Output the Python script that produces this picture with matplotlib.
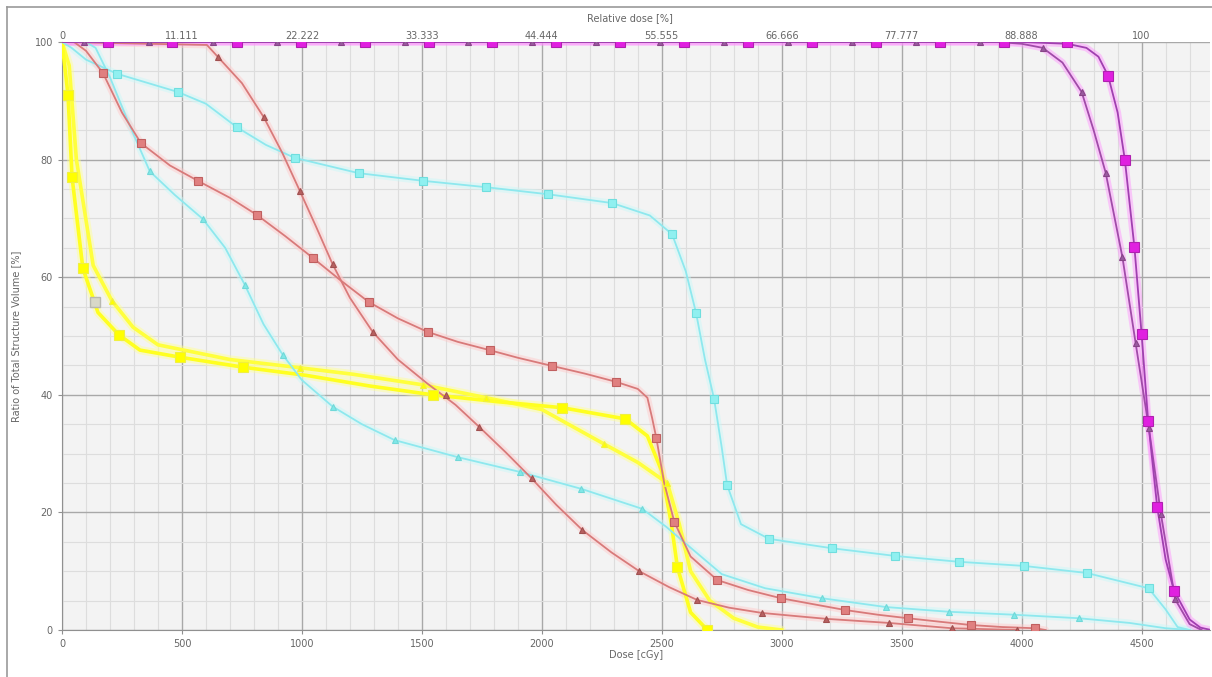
import matplotlib.pyplot as plt
from matplotlib.lines import Line2D

# dose axis ticks (bottom) and relative dose labels (top)
dose_ticks = [0, 500, 1000, 1500, 2000, 2500, 3000, 3500, 4000, 4500]
rel_labels = ["0", "11.111", "22.222", "33.333", "44.444", "55.555",
              "66.666", "77.777", "88.888", "100"]
vol_ticks = [0, 20, 40, 60, 80, 100]

# magenta, squares
mag_sq_x = [0, 1000, 2000, 3000, 4000, 4190, 4270, 4320, 4360, 4400, 4430, 4470, 4500,
            4527, 4565, 4600, 4635, 4700, 4745, 4790]
mag_sq_y = [100, 100, 100, 100, 100, 99.7, 99, 97.5, 94.3, 88, 80, 65.1, 50.3,
            35.6, 20.9, 12, 6.7, 1.8, 0.4, 0]
mag_sq_mx = [191, 458, 729, 995, 1261, 1528, 1794, 2061, 2327, 2594, 2860, 3127,
             3393, 3659, 3926, 4190, 4360, 4430, 4470, 4500, 4527, 4565, 4635]
mag_sq_my = [100] * 16 + [94.3, 80, 65.1, 50.3, 35.6, 20.9, 6.7]

# magenta, triangles
mag_tr_x = [0, 1000, 2000, 3000, 3900, 4000, 4088, 4170, 4250, 4300, 4350, 4420, 4475,
            4530, 4580, 4640, 4700, 4750]
mag_tr_y = [100, 100, 100, 100, 100, 99.7, 99, 96.5, 91.5, 85, 77.8, 63.4, 48.8,
            34.4, 19.8, 5.2, 1.0, 0]
mag_tr_mx = [92, 362, 629, 895, 1162, 1428, 1694, 1961, 2227, 2494, 2760, 3027, 3293,
             3560, 3826, 4088, 4250, 4350, 4420, 4475, 4530, 4580, 4640]
mag_tr_my = [100] * 15 + [99, 91.5, 77.8, 63.4, 48.8, 34.4, 19.8, 5.2]

# red, squares
red_sq_x = [0, 50, 100, 171, 250, 329, 450, 566, 700, 812, 930, 1045, 1160, 1278, 1400,
            1524, 1650, 1782, 1900, 2044, 2180, 2310, 2400, 2440, 2460, 2477, 2510,
            2552, 2620, 2731, 2860, 2997, 3130, 3264, 3400, 3526, 3660, 3788, 3920,
            4055, 4100]
red_sq_y = [100, 100, 98.5, 94.7, 88, 82.8, 79, 76.4, 73.5, 70.6, 67, 63.3, 59.5, 55.8,
            53, 50.7, 49, 47.6, 46.3, 44.9, 43.6, 42.2, 41, 39.5, 36, 32.7, 25, 18.4,
            12.5, 8.5, 6.8, 5.4, 4.4, 3.4, 2.6, 2.0, 1.4, 0.85, 0.5, 0.3, 0]
red_sq_mx = [171, 329, 566, 812, 1045, 1278, 1524, 1782, 2044, 2310, 2477, 2552, 2731,
             2997, 3264, 3526, 3788, 4055]
red_sq_my = [94.7, 82.8, 76.4, 70.6, 63.3, 55.8, 50.7, 47.6, 44.9, 42.2, 32.7, 18.4,
             8.5, 5.4, 3.4, 2.0, 0.85, 0.3]

# red, triangles
red_tr_x = [0, 604, 649, 750, 841, 920, 991, 1060, 1128, 1200, 1295, 1400, 1520, 1640,
            1740, 1850, 1957, 2060, 2169, 2290, 2406, 2530, 2648, 2780, 2918, 3050,
            3185, 3447, 3709, 3980]
red_tr_y = [100, 99.5, 97.5, 93, 87.2, 81, 74.7, 68.5, 62.2, 56.5, 50.7, 46, 42, 38.3,
            34.5, 30.2, 25.8, 21.3, 17, 13.2, 10.0, 7.3, 5.1, 3.8, 2.9, 2.4, 1.9, 1.2,
            0.3, 0]
red_tr_mx = [649, 841, 991, 1128, 1295, 1600, 1740, 1957, 2169, 2406, 2648, 2918, 3185,
             3447, 3709, 3980]
red_tr_my = [97.5, 87.2, 74.7, 62.2, 50.7, 40, 34.5, 25.8, 17, 10, 5.1, 2.9, 1.9, 1.2,
             0.3, 0]

# cyan, squares
cyan_sq_x = [0, 40, 100, 229, 483, 600, 729, 850, 970, 1236, 1503, 1769, 2027, 2294,
             2450, 2543, 2600, 2643, 2680, 2718, 2750, 2772, 2830, 2947, 3210, 3472,
             3738, 4009, 4271, 4529, 4600, 4650, 4700]
cyan_sq_y = [100, 99, 97, 94.6, 91.5, 89.5, 85.5, 82.5, 80.3, 77.7, 76.4, 75.3, 74.1,
             72.6, 70.5, 67.3, 61, 53.9, 46, 39.3, 31, 24.7, 18, 15.5, 13.9, 12.6,
             11.6, 10.9, 9.7, 7.1, 3.5, 0.5, 0]
cyan_sq_mx = [229, 483, 729, 970, 1236, 1503, 1769, 2027, 2294, 2543, 2643, 2718, 2772,
              2947, 3210, 3472, 3738, 4009, 4271, 4529]
cyan_sq_my = [94.6, 91.5, 85.5, 80.3, 77.7, 76.4, 75.3, 74.1, 72.6, 67.3, 53.9, 39.3,
              24.7, 15.5, 13.9, 12.6, 11.6, 10.9, 9.7, 7.1]

# cyan, triangles
cyan_tr_x = [0, 100, 140, 200, 280, 366, 470, 587, 680, 762, 840, 920, 1000, 1128, 1250,
             1386, 1649, 1907, 2165, 2419, 2520, 2620, 2750, 2931, 3168, 3435, 3697,
             3967, 4238, 4450, 4600, 4700]
cyan_tr_y = [100, 100, 99, 94, 86, 78, 74, 69.9, 65, 58.7, 52, 46.8, 42.5, 38, 35, 32.3,
             29.4, 26.9, 24, 20.6, 17.5, 14, 9.5, 7.1, 5.4, 3.9, 3.1, 2.6, 2.0, 1.2,
             0.3, 0]
cyan_tr_mx = [366, 587, 762, 920, 1128, 1386, 1649, 1907, 2165, 2419, 3168, 3435, 3697,
              3967, 4238]
cyan_tr_my = [78, 69.9, 58.7, 46.8, 38, 32.3, 29.4, 26.9, 24, 20.6, 5.4, 3.9, 3.1, 2.6,
              2.0]

# yellow A, squares
yel_a_x = [0, 25, 42, 87, 150, 237, 325, 491, 754, 1019, 1282, 1545, 1823, 2086, 2348,
           2440, 2500, 2540, 2565, 2620, 2690]
yel_a_y = [100, 91, 77, 61.5, 54, 50.2, 47.6, 46.4, 44.7, 43.3, 41.5, 40.0, 38.8, 37.8,
           35.9, 33, 27, 18, 10.7, 3, 0]
yel_a_mx = [25, 42, 87, 237, 491, 754, 1545, 2086, 2348, 2565, 2690]
yel_a_my = [91, 77, 61.5, 50.2, 46.4, 44.7, 40.0, 37.8, 35.9, 10.7, 0]

# yellow B, triangles
yel_b_x = [0, 30, 60, 130, 208, 296, 400, 700, 991, 1212, 1503, 1769, 2000, 2261, 2400,
           2523, 2573, 2620, 2700, 2800, 2900, 3000]
yel_b_y = [100, 96, 80, 62, 56, 51.5, 48.5, 46, 44.6, 43.5, 41.7, 39.5, 37.5, 31.6, 28.5,
           25, 18, 10, 5, 2, 0.5, 0]
yel_b_mx = [208, 991, 1503, 1769, 2261, 2523]
yel_b_my = [56, 44.6, 41.7, 39.5, 31.6, 25]

# lone grey marker
grey_x = [137]
grey_y = [55.8]

fig = plt.figure(figsize=(12.12, 6.77), dpi=100)
ax = fig.add_axes([62 / 1212, 47 / 677, 1148 / 1212, 588 / 677])
ax.set_facecolor("#f3f3f3")

ax.set_xlim(0, 4785)
ax.set_ylim(0, 100)
ax.set_xticks(dose_ticks)
ax.set_xticks(range(0, 4800, 100), minor=True)
ax.set_yticks(vol_ticks)
ax.set_yticks(range(0, 101, 5), minor=True)
ax.grid(which="minor", color="#dddddd", linewidth=0.8)
ax.grid(which="major", color="#a8a8a8", linewidth=1.0)
ax.set_axisbelow(True)
for side in ["top", "right"]:
    ax.spines[side].set_visible(False)
for side in ["left", "bottom"]:
    ax.spines[side].set_color("#909090")
ax.tick_params(which="both", colors="#909090", labelcolor="#666666", labelsize=7,
               length=3)
ax.tick_params(which="minor", length=0)


def curve(x, y, mx, my, line, glow, face, edge, marker, ms, lw=1.3, glw=5):
    ax.plot(x, y, color=glow, lw=glw, alpha=0.45, solid_capstyle="round", zorder=2)
    ax.plot(x, y, color=line, lw=lw, zorder=3)
    ax.plot(mx, my, ls="none", marker=marker, ms=ms, mfc=face, mec=edge, mew=0.8,
            zorder=4)


curve(yel_b_x, yel_b_y, yel_b_mx, yel_b_my, "#ffff3c", "#ffff90", "#ffff00", "#f0f040",
      "^", 5, lw=2.6, glw=6)
curve(yel_a_x, yel_a_y, yel_a_mx, yel_a_my, "#ffff20", "#ffff90", "#ffff00", "#f0f040",
      "s", 7, lw=2.6, glw=6)
ax.plot(grey_x, grey_y, ls="none", marker="s", ms=7, mfc="#d8d8c8", mec="#b8b8b0",
        zorder=4)
curve(cyan_tr_x, cyan_tr_y, cyan_tr_mx, cyan_tr_my, "#8ee8ee", "#c8f8f8", "#80e8e8",
      "#70d8d8", "^", 4)
curve(cyan_sq_x, cyan_sq_y, cyan_sq_mx, cyan_sq_my, "#8ee8ee", "#c8f8f8", "#90f0f0",
      "#70dede", "s", 6)
curve(red_tr_x, red_tr_y, red_tr_mx, red_tr_my, "#d87a7a", "#ffc8c8", "#b86060",
      "#a05050", "^", 4)
curve(red_sq_x, red_sq_y, red_sq_mx, red_sq_my, "#d87a7a", "#ffc8c8", "#e08080",
      "#c06060", "s", 6)
curve(mag_tr_x, mag_tr_y, mag_tr_mx, mag_tr_my, "#a04ca8", "#ff90ff", "#9a5aa0",
      "#884488", "^", 4)
curve(mag_sq_x, mag_sq_y, mag_sq_mx, mag_sq_my, "#a040b0", "#ff90ff", "#e020e0",
      "#b020b0", "s", 7)

# top relative-dose labels
top = ax.secondary_xaxis("top")
top.set_xticks(dose_ticks)
top.set_xticklabels(rel_labels)
top.tick_params(length=0, labelsize=7, labelcolor="#666666", pad=1)
top.spines["top"].set_visible(False)

ax.set_xlabel("Dose [cGy]", fontsize=7, color="#666666", labelpad=1)
ax.set_ylabel("Ratio of Total Structure Volume [%]", fontsize=7, color="#666666")
ax.yaxis.set_label_coords(-0.036, 0.5)
fig.text(630 / 1212, 1 - 18 / 677, "Relative dose [%]", fontsize=7, color="#666666",
         ha="center", va="center")

# window frame of the screenshot
fig.add_artist(Line2D([7 / 1212, 7 / 1212], [0, 1 - 7 / 677], color="#9a9a9a", lw=1.2))
fig.add_artist(Line2D([7 / 1212, 1], [1 - 7 / 677, 1 - 7 / 677], color="#9a9a9a", lw=1.2))

fig.savefig("out.png", dpi=100)
